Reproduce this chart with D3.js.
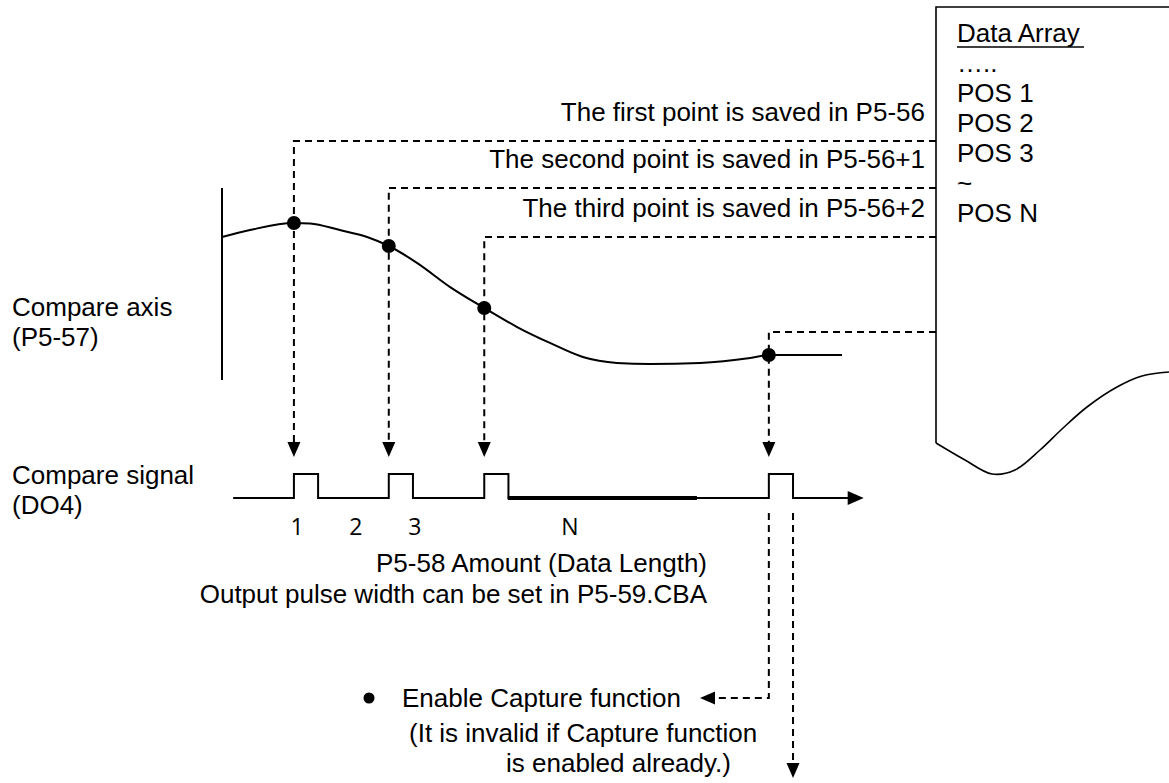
<!DOCTYPE html>
<html><head><meta charset="utf-8">
<script src="https://cdn.jsdelivr.net/npm/d3@7"></script>
<style>
html,body{margin:0;padding:0;background:#fff;}
svg{display:block;}
text{font-family:"Liberation Sans",Arial,sans-serif;font-size:26px;fill:#000;}
</style></head><body>
<svg id="c" width="1169" height="783"></svg>
<script>
// ---------- data ----------
const curveTime = [0, 4.5, 11.6, 14.2, 19.0, 23.4, 26.9, 31.5, 36.8, 42.3, 47.6, 52.9, 58.2, 63.7, 69.0, 77.1, 85.2, 88.2, 100];
const curvePos  = [74.5, 78.1, 81.8, 81.5, 78.1, 74.5, 69.8, 60.9, 48.4, 37.5, 27.6, 19.3, 12.0, 8.9, 8.3, 8.9, 11.5, 13.0, 13.0];
const compareTimes = [11.6, 26.9, 42.3, 88.2];
const comparePos   = [81.8, 69.8, 37.5, 13.0];
const saveLabels = ["The first point is saved in P5-56", "The second point is saved in P5-56+1", "The third point is saved in P5-56+2"];
const arrayLines = ["Data Array", "\u2026..", "POS 1", "POS 2", "POS 3", "~", "POS N"];
const pulseLabels = ["1", "2", "3", "N"];
const pulseLabelTimes = [12.1, 21.6, 31.1, 56.1];
const pulseWidth = 3.9;
const signalStart = 1.8, signalEnd = 103.5;
const dataLengthSpan = [46.1, 76.6];
const axisLabel = ["Compare axis", "(P5-57)"];
const signalLabel = ["Compare signal", "(DO4)"];
const noteLines = ["P5-58 Amount (Data Length)", "Output pulse width can be set in P5-59.CBA"];
const captureLines = ["Enable Capture function", "(It is invalid if Capture function", "is enabled already.)"];

// ---------- layout ----------
const svg = d3.select("#c");
const x = d3.scaleLinear().domain([0, 100]).range([222, 842]);
const y = d3.scaleLinear().domain([0, 100]).range([380, 188]);
const sig = d3.scaleLinear().domain([0, 1]).range([498, 474]);
const boxLeft = 936, boxTop = 7, boxBottom = 443;
const saveLevels = [141, 188, 237, 332];
const DASH = "7,5";

function arrowHead(tx, ty, dir, len = 15, half = 6.5) {
  let p;
  if (dir === "down") p = [[tx, ty], [tx - half, ty - len], [tx + half, ty - len]];
  else if (dir === "left") p = [[tx, ty], [tx + len, ty - half], [tx + len, ty + half]];
  else p = [[tx, ty], [tx - len, ty - half], [tx - len, ty + half]];
  svg.append("path").attr("d", d3.line()(p) + "Z").attr("fill", "#000");
}

// Data array box
svg.append("path")
  .attr("d", d3.line()([[1169, boxTop], [boxLeft, boxTop], [boxLeft, boxBottom]]))
  .attr("fill", "none").attr("stroke", "#000").attr("stroke-width", 1.6);
const wave = [[boxLeft, boxBottom], [965, 460], [992, 474], [1015, 470], [1040, 450], [1062, 429], [1087, 407], [1117, 387], [1142, 376], [1169, 372]];
svg.append("path").attr("d", d3.line().curve(d3.curveCatmullRom)(wave))
  .attr("fill", "none").attr("stroke", "#000").attr("stroke-width", 1.6);

arrayLines.forEach((s, i) => {
  svg.append("text").attr("x", 957).attr("y", 42 + i * 30).text(s);
});
svg.append("line").attr("x1", 957).attr("x2", 957 + 127).attr("y1", 47).attr("y2", 47)
  .attr("stroke", "#000").attr("stroke-width", 1.6);

// save labels
saveLabels.forEach((s, i) => {
  svg.append("text").attr("x", 925).attr("y", saveLevels[i] - 20).attr("text-anchor", "end").text(s);
});

// axis line
svg.append("line").attr("x1", x(0)).attr("x2", x(0)).attr("y1", y(100)).attr("y2", y(0))
  .attr("stroke", "#000").attr("stroke-width", 2);

// curve
const pts = curveTime.map((t, i) => [x(t), y(curvePos[i])]);
svg.append("path").attr("d", d3.line().curve(d3.curveMonotoneX)(pts))
  .attr("fill", "none").attr("stroke", "#000").attr("stroke-width", 2);

// dashed leaders
const arrowTipY = sig(1) - 17;
compareTimes.forEach((t, i) => {
  const px = x(t);
  svg.append("path")
    .attr("d", d3.line()([[boxLeft, saveLevels[i]], [px, saveLevels[i]], [px, arrowTipY - 14]]))
    .attr("fill", "none").attr("stroke", "#000").attr("stroke-width", 2).attr("stroke-dasharray", DASH);
  arrowHead(px, arrowTipY, "down");
});

// dots
compareTimes.forEach((t, i) => {
  svg.append("circle").attr("cx", x(t)).attr("cy", y(comparePos[i])).attr("r", 7).attr("fill", "#000");
});

// signal
const sp = [[x(signalStart), sig(0)]];
compareTimes.forEach(t => {
  sp.push([x(t), sig(0)], [x(t), sig(1)], [x(t + pulseWidth), sig(1)], [x(t + pulseWidth), sig(0)]);
});
sp.push([x(signalEnd) - 12, sig(0)]);
svg.append("path").attr("d", d3.line()(sp)).attr("fill", "none").attr("stroke", "#000").attr("stroke-width", 2);
svg.append("line").attr("x1", x(dataLengthSpan[0])).attr("x2", x(dataLengthSpan[1]))
  .attr("y1", sig(0)).attr("y2", sig(0)).attr("stroke", "#000").attr("stroke-width", 4);
arrowHead(x(signalEnd), sig(0), "right", 16, 7);

// pulse labels
pulseLabels.forEach((s, i) => {
  svg.append("text").attr("x", x(pulseLabelTimes[i])).attr("y", 535).attr("text-anchor", "middle")
    .style("font-family", "'Open Sans', sans-serif").style("font-size", "23px").text(s);
});

// left labels
axisLabel.forEach((s, i) => svg.append("text").attr("x", 12).attr("y", 316 + i * 30).text(s));
signalLabel.forEach((s, i) => svg.append("text").attr("x", 12).attr("y", 484 + i * 30).text(s));

// notes
noteLines.forEach((s, i) => svg.append("text").attr("x", 707).attr("y", 572 + i * 31).attr("text-anchor", "end").text(s));

// capture leaders
const lastT = compareTimes[compareTimes.length - 1];
const cx1 = x(lastT), cx2 = x(lastT + pulseWidth);
const capY = 698;
svg.append("path").attr("d", d3.line()([[cx1, sig(0) + 15], [cx1, capY], [715, capY]]))
  .attr("fill", "none").attr("stroke", "#000").attr("stroke-width", 2).attr("stroke-dasharray", DASH);
arrowHead(700, capY, "left", 15, 6.5);
svg.append("path").attr("d", d3.line()([[cx2, sig(0) + 15], [cx2, 763]]))
  .attr("fill", "none").attr("stroke", "#000").attr("stroke-width", 2).attr("stroke-dasharray", DASH);
arrowHead(cx2, 778, "down", 15, 6.5);

svg.append("circle").attr("cx", 369).attr("cy", capY).attr("r", 5.5).attr("fill", "#000");
svg.append("text").attr("x", 402).attr("y", 707).text(captureLines[0]);
svg.append("text").attr("x", 409).attr("y", 742).text(captureLines[1]);
svg.append("text").attr("x", 506).attr("y", 772).text(captureLines[2]);
</script>
</body></html>
